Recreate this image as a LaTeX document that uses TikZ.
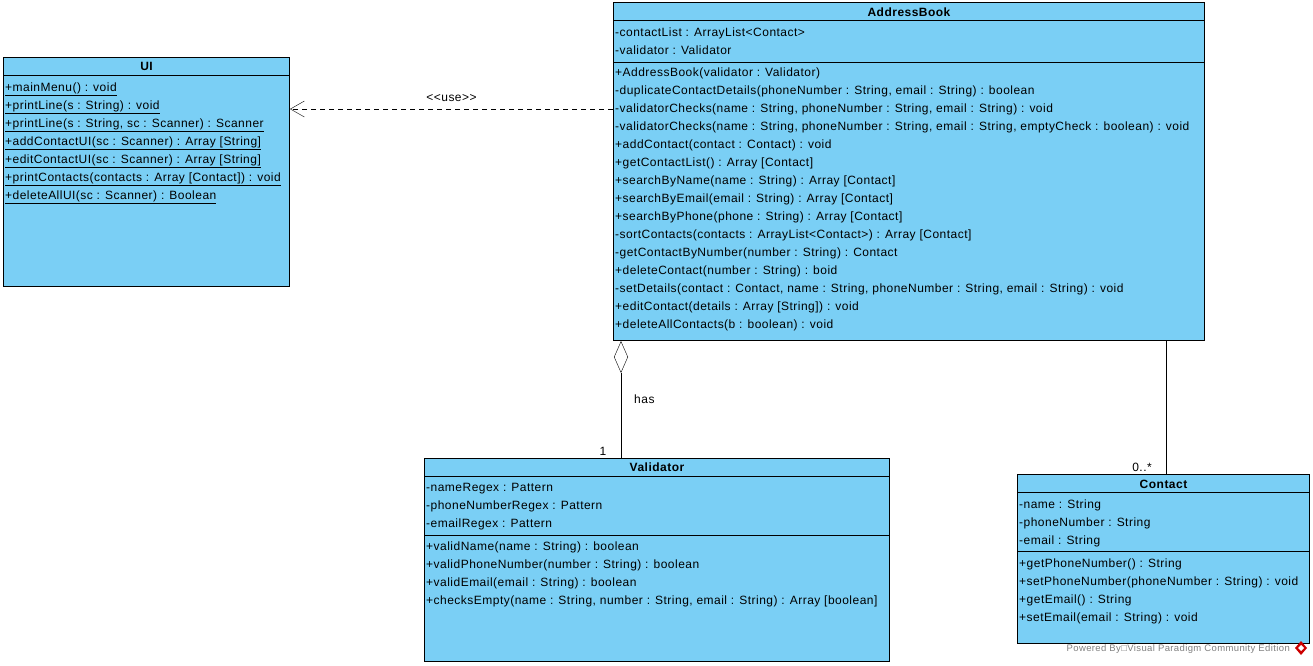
\documentclass[tikz,border=0pt]{standalone}
\usepackage{fontspec}
\setmainfont{Liberation Sans}
\newfontfamily\vpfont{Liberation Sans}[LetterSpace=4]
\usetikzlibrary{calc, arrows.meta, positioning}

\definecolor{classFill}{RGB}{122,207,245}

\begin{document}
\begin{tikzpicture}[x=1pt, y=-1pt,
        classbox/.style={draw, fill=classFill, line width=1pt, anchor=north west, inner sep=0},
        classtitle/.style={font=\vpfont\fontsize{12}{14}\selectfont\bfseries, inner sep=0},
        member/.style={font=\vpfont\fontsize{12}{14}\selectfont, anchor=west, inner sep=0, text height=8.5, text depth=2.5},
        assoclabel/.style={font=\vpfont\fontsize{12}{14}\selectfont, inner sep=0},
        sepline/.style={line width=1pt}]
        \useasboundingbox (0,0) rectangle (1313,665);
        % UI
        \node [classbox, minimum width=286, minimum height=229] (ui) at (3,57) {};
        \node [classtitle] (uiTitle) at ($(ui.north)+(0,9)$) {UI};
        \draw [sepline] ($(ui.north west)+(0,18)$) -- ($(ui.north east)+(0,18)$);
        \foreach \txt [count=\i] in {{+mainMenu() : void}, {+printLine(s : String) : void},
            {+printLine(s : String, sc : Scanner) : Scanner}, {+addContactUI(sc : Scanner) : Array [String]},
            {+editContactUI(sc : Scanner) : Array [String]}, {+printContacts(contacts : Array [Contact]) : void},
            {+deleteAllUI(sc : Scanner) : Boolean}}
            \node [member] (uiM\i) at (5, 88+18*\i-18) {\underline{\txt}};
        % AddressBook
        \node [classbox, minimum width=591, minimum height=338] (addressBook) at (613,2) {};
        \node [classtitle] (addressBookTitle) at ($(addressBook.north)+(0,10)$) {AddressBook};
        \draw [sepline] ($(addressBook.north west)+(0,18)$) -- ($(addressBook.north east)+(0,18)$);
        \node [member] (abA1) at (615,33) {-contactList : ArrayList<Contact>};
        \node [member] (abA2) at (615,51) {-validator : Validator};
        \draw [sepline] ($(addressBook.north west)+(0,60)$) -- ($(addressBook.north east)+(0,60)$);
        \foreach \txt [count=\i] in {{+AddressBook(validator : Validator)},
            {-duplicateContactDetails(phoneNumber : String, email : String) : boolean},
            {-validatorChecks(name : String, phoneNumber : String, email : String) : void},
            {-validatorChecks(name : String, phoneNumber : String, email : String, emptyCheck : boolean) : void},
            {+addContact(contact : Contact) : void}, {+getContactList() : Array [Contact]},
            {+searchByName(name : String) : Array [Contact]}, {+searchByEmail(email : String) : Array [Contact]},
            {+searchByPhone(phone : String) : Array [Contact]},
            {-sortContacts(contacts : ArrayList<Contact>) : Array [Contact]},
            {-getContactByNumber(number : String) : Contact}, {+deleteContact(number : String) : boid},
            {-setDetails(contact : Contact, name : String, phoneNumber : String, email : String) : void},
            {+editContact(details : Array [String]) : void}, {+deleteAllContacts(b : boolean) : void}}
            \node [member] (abM\i) at (615, 73+18*\i-18) {\txt};
        % Validator
        \node [classbox, minimum width=465, minimum height=203] (validator) at (424,458) {};
        \node [classtitle] (validatorTitle) at ($(validator.north)+(0,9)$) {Validator};
        \draw [sepline] ($(validator.north west)+(0,18)$) -- ($(validator.north east)+(0,18)$);
        \foreach \txt [count=\i] in {{-nameRegex : Pattern}, {-phoneNumberRegex : Pattern}, {-emailRegex : Pattern}}
            \node [member] (valA\i) at (426, 488+18*\i-18) {\txt};
        \draw [sepline] ($(validator.north west)+(0,77)$) -- ($(validator.north east)+(0,77)$);
        \foreach \txt [count=\i] in {{+validName(name : String) : boolean},
            {+validPhoneNumber(number : String) : boolean}, {+validEmail(email : String) : boolean},
            {+checksEmpty(name : String, number : String, email : String) : Array [boolean]}}
            \node [member] (valM\i) at (426, 547+18*\i-18) {\txt};
        % Contact
        \node [classbox, minimum width=292, minimum height=169] (contact) at (1017,474) {};
        \node [classtitle] (contactTitle) at ($(contact.north)+(0,10)$) {Contact};
        \draw [sepline] ($(contact.north west)+(0,18)$) -- ($(contact.north east)+(0,18)$);
        \foreach \txt [count=\i] in {{-name : String}, {-phoneNumber : String}, {-email : String}}
            \node [member] (conA\i) at (1019, 505+18*\i-18) {\txt};
        \draw [sepline] ($(contact.north west)+(0,77)$) -- ($(contact.north east)+(0,77)$);
        \foreach \txt [count=\i] in {{+getPhoneNumber() : String},
            {+setPhoneNumber(phoneNumber : String) : void}, {+getEmail() : String},
            {+setEmail(email : String) : void}}
            \node [member] (conM\i) at (1019, 564+18*\i-18) {\txt};
        % use
        \draw [dash pattern=on 5pt off 4pt, -{Straight Barb[length=14pt, width=16pt]}]
            (addressBook.west |- abM3.west) -- (ui.east |- abM3.west)
            node [assoclabel, midway, above=7pt] (useLabel) {\textless\textless use\textgreater\textgreater};
        % has
        \coordinate (hasStart) at ($(addressBook.south west)+(8,0)$);
        \draw [{Diamond[open, length=32pt, width=14pt]}-] (hasStart) -- (validator.north -| hasStart)
            node [assoclabel, pos=0.5, right=13pt] (hasLabel) {has}
            node [assoclabel, pos=1, above=2pt, xshift=-18pt] (hasMult) {1};
        % contacts
        \coordinate (contactsStart) at ($(addressBook.south west)+(553,0)$);
        \draw (contactsStart) -- (contact.north -| contactsStart)
            node [assoclabel, pos=1, above=2pt, xshift=-24pt] (contactsMult) {0..*};
        % footer
        \node [font=\vpfont\fontsize{9.5}{11}\selectfont, text=gray, anchor=east, inner sep=0] (footer) at (1290,649)
            {Powered By□Visual Paradigm Community Edition};
        \fill [red!80!black] (1301,641) -- (1307,648) -- (1301,655) -- (1295,648) -- cycle;
        \fill [white] (1301,645) -- (1304,648) -- (1301,651) -- (1298,648) -- cycle;
\end{tikzpicture}
\end{document}
